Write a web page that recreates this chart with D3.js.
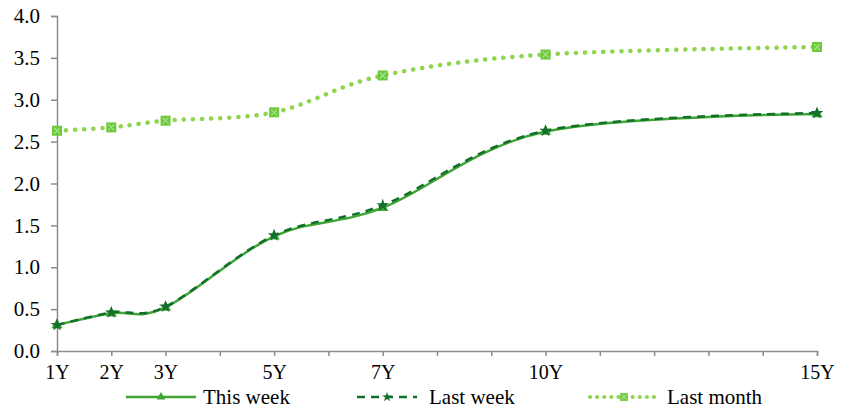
<!DOCTYPE html>
<html>
<head>
<meta charset="utf-8">
<script src="https://cdn.jsdelivr.net/npm/d3@7"></script>
<style>
  body { margin: 0; background: #fff; }
  text { font-family: "Liberation Serif", "Times New Roman", serif; }
</style>
</head>
<body>
<div id="chart"></div>
<script>
// tenors in years and their labels
const tenors = [1, 2, 3, 5, 7, 10, 15];
const tenorLabels = ["1Y", "2Y", "3Y", "5Y", "7Y", "10Y", "15Y"];

const thisWeek = [0.31, 0.45, 0.52, 1.37, 1.71, 2.62, 2.83];
const lastWeek = [0.31, 0.46, 0.53, 1.38, 1.74, 2.63, 2.84];
const lastMonth = [2.63, 2.67, 2.75, 2.85, 3.29, 3.54, 3.63];

const yTicks = [0, 0.5, 1, 1.5, 2, 2.5, 3, 3.5, 4];

const width = 845, height = 410;
const margin = { top: 16, right: 28, bottom: 59, left: 57 };

const svg = d3.select("#chart").append("svg")
    .attr("width", width)
    .attr("height", height);

const x = d3.scaleLinear().domain([1, 15]).range([margin.left, width - margin.right]);
const y = d3.scaleLinear().domain([0, 4]).range([height - margin.bottom, margin.top]);

// y axis
const yAxis = svg.append("g")
    .attr("transform", `translate(${margin.left},0)`)
    .call(d3.axisLeft(y).tickValues(yTicks).tickFormat(d3.format(".1f")).tickSize(6).tickPadding(11));

// x axis, a tick every year, labels only on tenors
const xAxis = svg.append("g")
    .attr("transform", `translate(0,${y(0)})`)
    .call(d3.axisBottom(x).tickValues(d3.range(1, 16))
        .tickFormat(d => {
            const i = tenors.indexOf(d);
            return i >= 0 ? tenorLabels[i] : "";
        })
        .tickSize(5).tickPadding(9));

[yAxis, xAxis].forEach(g => {
    g.attr("font-family", null);
    g.selectAll(".domain, line").attr("stroke", "#8c8c8c").attr("stroke-width", 1.5);
    g.selectAll("text").attr("fill", "#000");
});
yAxis.selectAll("text").style("font-size", "21px");
xAxis.selectAll("text").style("font-size", "20px");

const series = [
    { name: "This week", values: thisWeek, color: "#3fa535", marker: "#3fa535", dash: null, width: 2.5, shape: "triangle" },
    { name: "Last week", values: lastWeek, color: "#136f2c", marker: "#136f2c", dash: "8,6", width: 2.5, shape: "star" },
    { name: "Last month", values: lastMonth, color: "#8ed44f", marker: "#6cc83c", dash: "0.1,9", width: 4.5, shape: "square" }
];

const line = d3.line()
    .x((d, i) => x(tenors[i]))
    .y(d => y(d))
    .curve(d3.curveCardinal.tension(0));

function drawMarker(g, shape, cx, cy, color, scale = 1) {
    if (shape === "triangle") {
        g.append("path")
            .attr("d", d3.symbol(d3.symbolTriangle, 55 * scale)())
            .attr("transform", `translate(${cx},${cy})`)
            .attr("fill", color);
    } else if (shape === "star") {
        g.append("path")
            .attr("d", d3.symbol(d3.symbolStar, 50 * scale)())
            .attr("transform", `translate(${cx},${cy})`)
            .attr("fill", color);
    } else {
        const h = 5 * Math.sqrt(scale);
        g.append("rect")
            .attr("x", cx - h).attr("y", cy - h)
            .attr("width", 2 * h).attr("height", 2 * h)
            .attr("fill", color);
        g.append("path")
            .attr("d", `M${cx - h * 0.6},${cy - h * 0.6}L${cx + h * 0.6},${cy + h * 0.6}M${cx + h * 0.6},${cy - h * 0.6}L${cx - h * 0.6},${cy + h * 0.6}`)
            .attr("stroke", "#a6e283").attr("stroke-width", 1.2);
    }
}

// draw lines in reverse so "This week" sits under "Last week" dashes
const plot = svg.append("g");
[series[2], series[0], series[1]].forEach(s => {
    plot.append("path")
        .datum(s.values)
        .attr("fill", "none")
        .attr("stroke", s.color)
        .attr("stroke-width", s.width)
        .attr("stroke-linecap", s.shape === "square" ? "round" : "butt")
        .attr("stroke-dasharray", s.dash)
        .attr("d", line);
    s.values.forEach((v, i) => drawMarker(plot, s.shape, x(tenors[i]), y(v), s.marker));
});

// legend
const legendY = 397;
const legendLines = [[126, 196], [357, 417], [590, 658]];
const legendText = [203, 429, 667];
series.forEach((s, i) => {
    const [x0, x1] = legendLines[i];
    const g = svg.append("g");
    g.append("line")
        .attr("x1", x0).attr("x2", x1)
        .attr("y1", legendY).attr("y2", legendY)
        .attr("stroke", s.color)
        .attr("stroke-width", s.shape === "square" ? 4 : 2.5)
        .attr("stroke-linecap", s.shape === "square" ? "round" : "butt")
        .attr("stroke-dasharray", s.shape === "square" ? "0.1,7" : s.dash);
    drawMarker(g, s.shape, (x0 + x1) / 2, legendY, s.marker, 0.6);
    g.append("text")
        .attr("x", legendText[i]).attr("y", legendY + 7)
        .style("font-size", "21px")
        .text(s.name);
});
</script>
</body>
</html>
